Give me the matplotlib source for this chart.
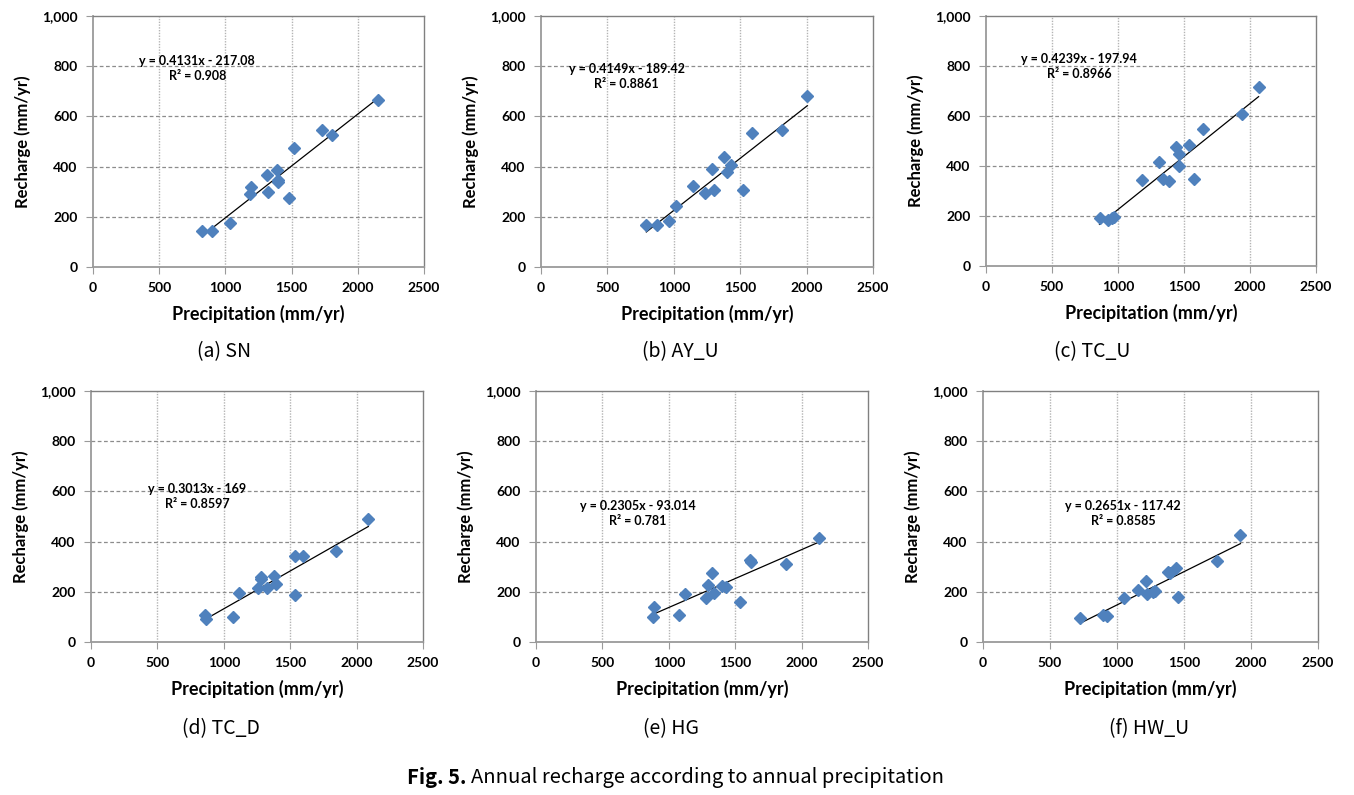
import matplotlib.pyplot as plt
from matplotlib.ticker import FuncFormatter
import numpy as np

plt.rcParams['font.family'] = ['Lato', 'DejaVu Sans']

# Annual precipitation / recharge per site (mm/yr)
sn_precip = [824, 902, 1038, 1191, 1189, 1312, 1322, 1392, 1400, 1395, 1483, 1518, 1731, 1807, 2154]
sn_recharge = [143, 143, 177, 317, 290, 368, 300, 388, 348, 337, 273, 475, 547, 526, 666]

ayu_precip = [793, 876, 961, 1019, 1147, 1234, 1302, 1287, 1377, 1398, 1430, 1520, 1591, 1814, 2005]
ayu_recharge = [168, 168, 183, 243, 323, 296, 305, 392, 440, 377, 408, 308, 533, 547, 683]

tcu_precip = [860, 928, 958, 973, 1185, 1308, 1341, 1384, 1442, 1465, 1462, 1535, 1578, 1641, 1939, 2065]
tcu_recharge = [192, 182, 190, 197, 342, 415, 347, 339, 477, 448, 401, 484, 348, 547, 606, 716]

tcd_precip = [859, 864, 1068, 1116, 1254, 1279, 1282, 1327, 1380, 1390, 1533, 1598, 1533, 1842, 2088]
tcd_recharge = [108, 91, 101, 194, 216, 258, 250, 215, 264, 231, 343, 343, 188, 363, 489]

hg_precip = [888, 883, 1076, 1119, 1280, 1295, 1327, 1337, 1403, 1430, 1538, 1613, 1618, 1879, 2133]
hg_recharge = [141, 101, 109, 190, 177, 226, 274, 197, 222, 218, 161, 325, 319, 311, 415]

hwu_precip = [727, 896, 928, 1055, 1154, 1219, 1224, 1266, 1286, 1383, 1393, 1441, 1458, 1747, 1921]
hwu_recharge = [97, 109, 105, 176, 208, 242, 192, 200, 203, 279, 274, 293, 178, 321, 425]

panel_names = ['(a) SN', '(b) AY_U', '(c) TC_U', '(d) TC_D', '(e) HG', '(f) HW_U']
slopes = [0.4131, 0.4149, 0.4239, 0.3013, 0.2305, 0.2651]
intercepts = [-217.08, -189.42, -197.94, -169, -93.014, -117.42]
r_squared = ['0.908', '0.8861', '0.8966', '0.8597', '0.781', '0.8585']

precip = [sn_precip, ayu_precip, tcu_precip, tcd_precip, hg_precip, hwu_precip]
recharge = [sn_recharge, ayu_recharge, tcu_recharge, tcd_recharge, hg_recharge, hwu_recharge]

W, H = 1354, 795
fig = plt.figure(figsize=(W / 100, H / 100), dpi=100)

# plot-area boxes in pixels: left, top, right, bottom
boxes = [(93, 16, 424, 267), (541, 16, 873, 267), (986, 16, 1316, 266),
         (91, 391, 423, 642), (536, 391, 868, 642), (983, 391, 1318, 642)]
# equation label centre (data coords)
eq_pos = [(787, 789), (645, 760), (706, 797), (797, 579), (765, 512), (1047, 512)]
# sub-caption centres (pixels)
cap_pos = [(224, 352), (680, 352), (1092, 352), (221, 729), (671, 729), (1149, 729)]

blue = '#4F81BD'

for i in range(6):
    l, t, r, b = boxes[i]
    ax = fig.add_axes([l / W, 1 - b / H, (r - l) / W, (b - t) / H])
    x = np.array(precip[i])
    y = np.array(recharge[i])

    ax.set_xlim(0, 2500)
    ax.set_ylim(0, 1000)
    ax.set_xticks(range(0, 2501, 500))
    ax.set_yticks(range(0, 1001, 200))
    ax.yaxis.set_major_formatter(FuncFormatter(lambda v, p: f'{int(v):,}'))

    # gridlines
    for gx in range(500, 2500, 500):
        ax.axvline(gx, color='#b4b4b4', lw=1.0, ls=(0, (1, 1)), zorder=0)
    for gy in range(200, 1000, 200):
        ax.axhline(gy, color='#8c8c8c', lw=0.9, ls=(0, (3, 2)), zorder=0)

    # trend line over data range
    xs = np.array([x.min(), x.max()])
    ax.plot(xs, slopes[i] * xs + intercepts[i], color='black', lw=0.9, zorder=2)
    ax.plot(x, y, ls='none', marker='D', ms=6.5, color=blue, mec=blue, zorder=3)

    eq = f'y = {slopes[i]}x - {abs(intercepts[i])}\nR\u00b2 = {r_squared[i]}'
    ax.text(eq_pos[i][0], eq_pos[i][1], eq, ha='center', va='center',
            fontsize=9, fontweight='bold', linespacing=1.3, zorder=4)

    for s in ['top', 'right']:
        ax.spines[s].set_color('#808080')
        ax.spines[s].set_linewidth(1.0)
    for s in ['left', 'bottom']:
        ax.spines[s].set_color('#9a9a9a')
        ax.spines[s].set_linewidth(1.3)
    ax.tick_params(direction='out', length=5, width=0.8, color='#9a9a9a',
                   labelsize=10, pad=6)
    for lab in ax.get_xticklabels() + ax.get_yticklabels():
        lab.set_fontweight('bold')

    ax.set_xlabel('Precipitation (mm/yr)', fontsize=13, fontweight='bold', labelpad=8)
    ax.set_ylabel('Recharge (mm/yr)', fontsize=12, fontweight='bold', labelpad=8)

    fig.text(cap_pos[i][0] / W, 1 - cap_pos[i][1] / H, panel_names[i],
             ha='center', va='center', fontsize=14,
             family=['Noto Sans CJK KR', 'DejaVu Sans'])

# figure caption: bold "Fig. 5." followed by regular text
fig.canvas.draw()
renderer = fig.canvas.get_renderer()
t1 = fig.text(407 / W, 1 - 778 / H, 'Fig. 5. ', ha='left', va='center',
              fontsize=14.5, fontweight='bold', family=['Noto Sans CJK KR', 'DejaVu Sans'])
bb = t1.get_window_extent(renderer)
fig.text(bb.x1 / W, 1 - 778 / H, 'Annual recharge according to annual precipitation',
         ha='left', va='center', fontsize=14.5, family=['Noto Sans CJK KR', 'DejaVu Sans'])

fig.savefig('out.png', dpi=100)
